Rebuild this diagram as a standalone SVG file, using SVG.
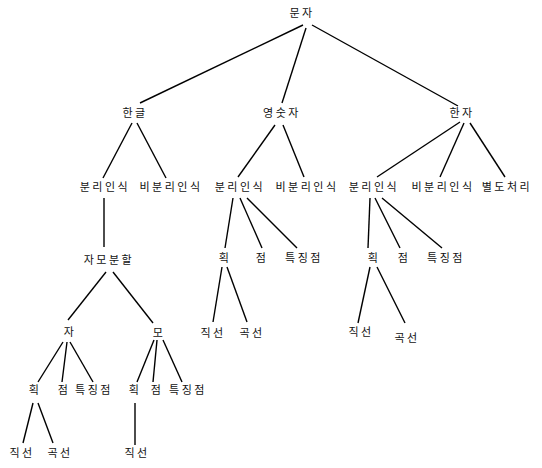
<svg xmlns="http://www.w3.org/2000/svg" width="542" height="468" viewBox="0 0 542 468">
<style>
text{font-family:"Noto Sans CJK KR","Noto Sans",sans-serif;font-size:11px;fill:#111;text-anchor:middle;letter-spacing:2.5px}
.c line{stroke:#000;stroke-width:1.4}
</style>
<rect width="542" height="468" fill="#fff"/>
<g class="c" id="connectors">
<line x1="303" y1="25" x2="140" y2="103"/>
<line x1="306" y1="28" x2="282" y2="103"/>
<line x1="312" y1="25" x2="458" y2="106"/>
<line x1="132" y1="123" x2="103" y2="178"/>
<line x1="137" y1="123" x2="166" y2="178"/>
<line x1="275" y1="125" x2="238" y2="177"/>
<line x1="283" y1="125" x2="304" y2="177"/>
<line x1="460" y1="122" x2="377" y2="177"/>
<line x1="464" y1="123" x2="440" y2="177"/>
<line x1="470" y1="123" x2="505" y2="177"/>
<line x1="104" y1="198" x2="104" y2="247"/>
<line x1="106" y1="272" x2="68" y2="320"/>
<line x1="113" y1="272" x2="153" y2="323"/>
<line x1="63" y1="342" x2="38" y2="382"/>
<line x1="67" y1="342" x2="62" y2="382"/>
<line x1="70" y1="342" x2="93" y2="382"/>
<line x1="33" y1="403" x2="23" y2="443"/>
<line x1="38" y1="403" x2="53" y2="443"/>
<line x1="154" y1="340" x2="137" y2="382"/>
<line x1="157" y1="340" x2="153" y2="382"/>
<line x1="163" y1="340" x2="182" y2="382"/>
<line x1="135" y1="403" x2="135" y2="445"/>
<line x1="233" y1="198" x2="225" y2="248"/>
<line x1="240" y1="198" x2="262" y2="248"/>
<line x1="247" y1="198" x2="297" y2="248"/>
<line x1="222" y1="267" x2="213" y2="322"/>
<line x1="227" y1="267" x2="247" y2="322"/>
<line x1="370" y1="198" x2="368" y2="248"/>
<line x1="375" y1="198" x2="400" y2="248"/>
<line x1="382" y1="198" x2="442" y2="248"/>
<line x1="370" y1="267" x2="358" y2="323"/>
<line x1="377" y1="267" x2="405" y2="323"/>
</g>
<g id="root"><text x="302" y="17">문자</text></g>
<g id="hangul"><text x="135" y="117">한글</text></g>
<g id="alnum"><text x="282" y="117">영숫자</text></g>
<g id="hanja"><text x="462" y="117">한자</text></g>
<g id="h-sep"><text x="105" y="191">분리인식</text></g>
<g id="h-nonsep"><text x="171" y="191">비분리인식</text></g>
<g id="a-sep"><text x="240" y="191">분리인식</text></g>
<g id="a-nonsep"><text x="307" y="191">비분리인식</text></g>
<g id="j-sep"><text x="374" y="191">분리인식</text></g>
<g id="j-nonsep"><text x="443" y="191">비분리인식</text></g>
<g id="j-special"><text x="507" y="191">별도처리</text></g>
<g id="jamo"><text x="109" y="264">자모분할</text></g>
<g id="a-stroke"><text x="225" y="262">획</text></g>
<g id="a-dot"><text x="262" y="262">점</text></g>
<g id="a-feat"><text x="304" y="262">특징점</text></g>
<g id="j-stroke"><text x="374" y="262">획</text></g>
<g id="j-dot"><text x="404" y="262">점</text></g>
<g id="j-feat"><text x="446" y="262">특징점</text></g>
<g id="a-straight"><text x="213" y="337">직선</text></g>
<g id="a-curve"><text x="252" y="337">곡선</text></g>
<g id="j-straight"><text x="361" y="336">직선</text></g>
<g id="j-curve"><text x="407" y="342">곡선</text></g>
<g id="ja"><text x="70" y="336">자</text></g>
<g id="mo"><text x="159" y="337">모</text></g>
<g id="ja-stroke"><text x="35" y="394">획</text></g>
<g id="ja-dot"><text x="64" y="394">점</text></g>
<g id="ja-feat"><text x="94" y="394">특징점</text></g>
<g id="mo-stroke"><text x="135" y="394">획</text></g>
<g id="mo-dot"><text x="157" y="394">점</text></g>
<g id="mo-feat"><text x="188" y="394">특징점</text></g>
<g id="ja-straight"><text x="22" y="457">직선</text></g>
<g id="ja-curve"><text x="60" y="457">곡선</text></g>
<g id="mo-straight"><text x="137" y="457">직선</text></g>
</svg>
